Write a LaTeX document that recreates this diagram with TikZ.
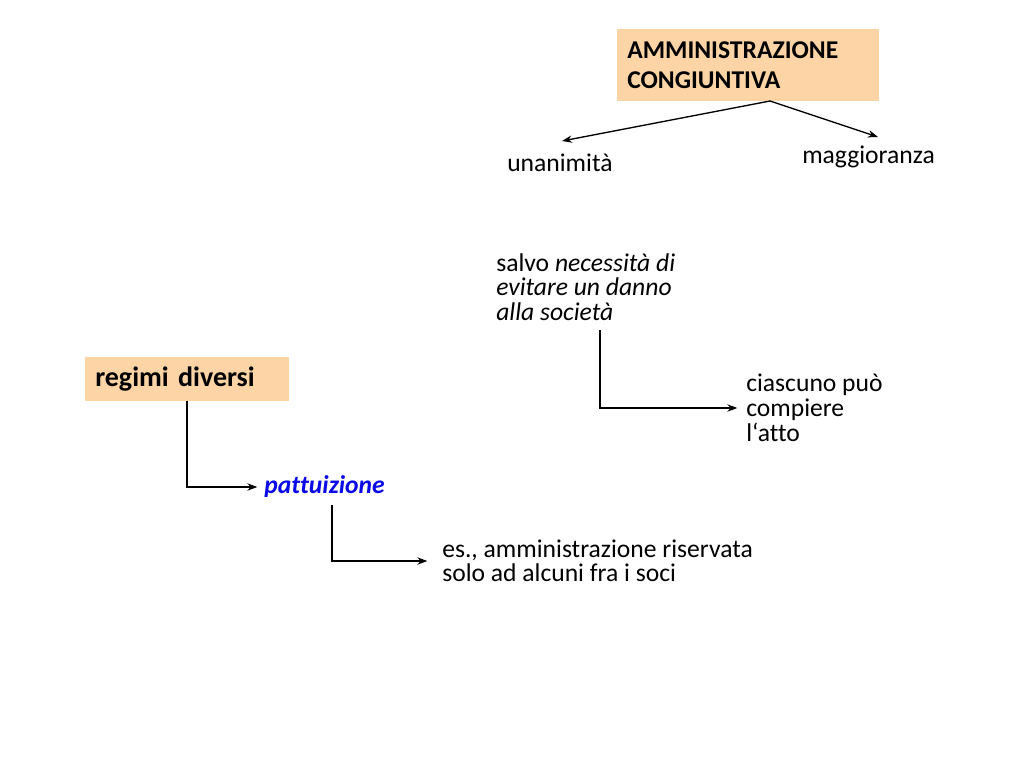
\documentclass[tikz,border=0pt]{standalone}
\usepackage{fontspec}
\setmainfont{Carlito}[Ligatures=NoCommon]
\usetikzlibrary{arrows.meta,calc}
\definecolor{peach}{HTML}{FCD4A6}
\definecolor{pblue}{HTML}{0A0AE6}
\begin{document}
\begin{tikzpicture}[x=0.75pt,y=-0.75pt,
  txt/.style={inner sep=0pt, anchor=west, align=left, font=\fontsize{19.2}{18.4}\selectfont},
  boxnode/.style={fill=peach, inner ysep=0pt, inner xsep=7.5pt, anchor=north west, align=left},
  arr/.style={-{Stealth[length=7.5pt,width=5.5pt]}, line width=1pt},
  conn/.style={line width=1pt}]
\useasboundingbox (0,0) rectangle (1024,768);

% top box
\node[boxnode, text width=181.5pt, minimum height=54pt,
      font=\fontsize{19.2}{22.5}\selectfont\bfseries] (title) at (617,29)
  {AMMINISTRAZIONE\\CONGIUNTIVA};
\node[txt] (unan) at (507,163) {unanimità};
\node[txt] (magg) at (802,157) {maggioranza};
\coordinate (tsrc) at (770,101);
\coordinate (uend) at (562,141);
\coordinate (mend) at (878,137);
\draw[arr] (tsrc) -- (uend);
\draw[arr] (tsrc) -- (mend);

% salvo ...
\node[txt] (salvo) at (496,287) {salvo \textit{necessità di}\\\textit{evitare un danno}\\\textit{alla società}};
\node[txt, font=\fontsize{19.2}{18.6}\selectfont] (ciasc) at (746,408) {ciascuno può\\compiere\\l‘atto};
\coordinate (salvoout) at (600,330);
\draw[arr, shorten >=6.5pt] (salvoout) |- (ciasc.west);

% regimi diversi
\node[boxnode, text width=138pt, minimum height=33pt,
      font=\fontsize{21}{25}\selectfont\bfseries] (regimi) at (85,357)
  {regimi diversi};
\node[txt, font=\fontsize{19.2}{18.4}\selectfont\bfseries\itshape, text=pblue] (patt) at (264,487) {pattuizione};
\coordinate (regout) at (187,401);
\draw[arr, shorten >=5pt] (regout) |- (patt.west);

\node[txt] (es) at (442,561) {es., amministrazione riservata\\solo ad alcuni fra i soci};
\coordinate (pattout) at (332,505);
\draw[arr, shorten >=11pt] (pattout) |- (es.west);
\end{tikzpicture}
\end{document}
